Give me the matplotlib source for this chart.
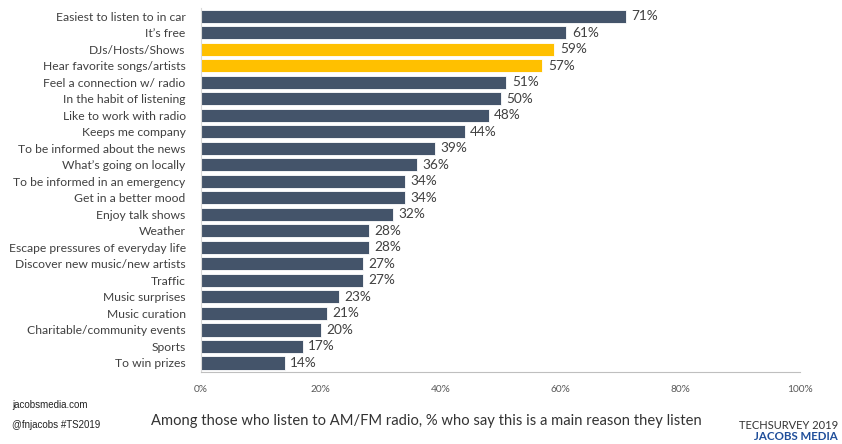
import matplotlib.pyplot as plt

# reasons for listening to AM/FM radio (top to bottom)
reasons = [
    "Easiest to listen to in car", "It\u2019s free", "DJs/Hosts/Shows",
    "Hear favorite songs/artists", "Feel a connection w/ radio",
    "In the habit of listening", "Like to work with radio", "Keeps me company",
    "To be informed about the news", "What\u2019s going on locally",
    "To be informed in an emergency", "Get in a better mood", "Enjoy talk shows",
    "Weather", "Escape pressures of everyday life",
    "Discover new music/new artists", "Traffic", "Music surprises",
    "Music curation", "Charitable/community events", "Sports", "To win prizes",
]
pct = [71, 61, 59, 57, 51, 50, 48, 44, 39, 36, 34, 34, 32, 28, 28, 27, 27, 23, 21, 20, 17, 14]
highlight = ["DJs/Hosts/Shows", "Hear favorite songs/artists"]

xticks = [0, 20, 40, 60, 80, 100]

plt.rcParams['font.family'] = ['Lato', 'DejaVu Sans']

fig = plt.figure(figsize=(8.42, 4.44), dpi=100)
ax = fig.add_axes([201 / 842, 1 - 372 / 444, 599 / 842, 364 / 444])

colors = ["#FFC000" if r in highlight else "#44546A" for r in reasons]
ypos = list(range(len(reasons)))
ax.barh(ypos, pct, height=0.8, color=colors, edgecolor="white", linewidth=0.6)

for y, v in zip(ypos, pct):
    ax.text(v + 0.9, y, f"{v}%", va="center", ha="left", fontsize=9.8, color="#404040")

ax.set_yticks(ypos)
ax.set_yticklabels(reasons, fontsize=8.7, color="#404040")
ax.set_ylim(21.55, -0.5)
ax.set_xlim(0, 100)
ax.set_xticks(xticks)
ax.set_xticklabels([f"{t}%" for t in xticks], fontsize=7.3, color="#595959")
ax.tick_params(axis="y", length=0, pad=11)
ax.tick_params(axis="x", length=0, pad=9)

for s in ["top", "right"]:
    ax.spines[s].set_visible(False)
ax.spines["left"].set_color("#D9D9D9")
ax.spines["bottom"].set_color("#BFBFBF")

# footer
fig.text(12 / 842, 1 - 405 / 444, "jacobsmedia.com", fontsize=7, color="#222222",
         family="Liberation Sans", va="center")
fig.text(12 / 842, 1 - 425 / 444, "@fnjacobs #TS2019", fontsize=7, color="#222222",
         family="Liberation Sans", va="center")
fig.text(426 / 842, 1 - 421 / 444,
         "Among those who listen to AM/FM radio, % who say this is a main reason they listen",
         fontsize=10.6, color="#333333", ha="center", va="center")
fig.text(838 / 842, 1 - 425 / 444, "TECHSURVEY 2019", fontsize=8, color="#333333",
         ha="right", va="center")
fig.text(838 / 842, 1 - 436 / 444, "JACOBS MEDIA", fontsize=8.3, color="#1F4E9A",
         fontweight="bold", ha="right", va="center")

fig.savefig("out.png", dpi=100)
